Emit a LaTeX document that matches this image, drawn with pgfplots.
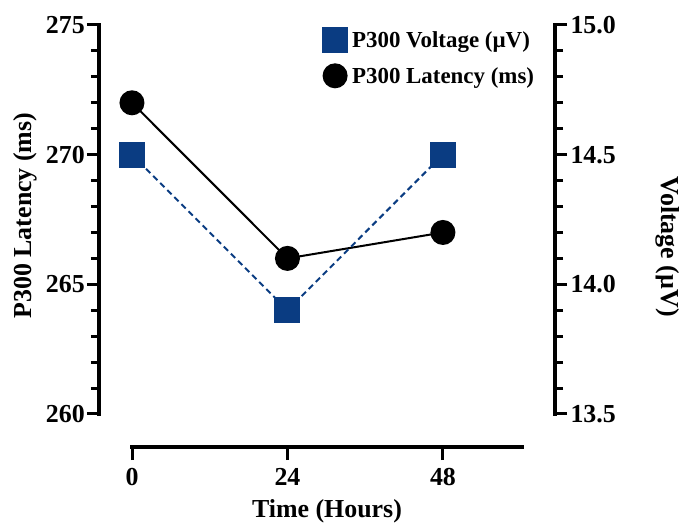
\documentclass[border=0pt]{standalone}
\usepackage{pgfplots}
\pgfplotsset{compat=1.18}
\usepackage{fontspec}
\setmainfont{Liberation Serif}
\definecolor{pblue}{RGB}{10,60,130}
\newcommand{\bigf}{\fontsize{26}{30}\selectfont\bfseries}
\newcommand{\legf}{\fontsize{23}{27}\selectfont\bfseries}
\begin{document}
\begin{tikzpicture}
\useasboundingbox (0bp,0bp) rectangle (680bp,525bp);
\pgfplotsset{
  every axis/.append style={
    scale only axis,
    clip=false,
    font=\bigf,
    tick label style={font=\bigf},
    label style={font=\bigf},
    /pgf/number format/assume math mode=true,
    axis line style={line width=3.5bp, line cap=rect},
    major tick length=12bp,
    minor tick length=8bp,
    every tick/.style={black, line width=3bp},
  }
}
\begin{axis}[
  at={(99bp,111bp)}, anchor=south west,
  width=456bp, height=389bp,
  xmin=-5.09, xmax=65.3,
  ymin=260, ymax=275,
  axis x line=none,
  axis y line*=left,
  tick align=outside,
  ytick={260,265,270,275},
  minor y tick num=4,
  yticklabel style={inner sep=2bp},
  ylabel={P300 Latency (ms)},
  every axis y label/.style={at={(axis description cs:-0.162,0.51)}, rotate=90, anchor=center},
]
\addplot[black, line width=2bp, mark=*, mark size=11.5bp, mark options={solid, fill=black}]
  coordinates {(0,272) (24,266) (48,267)};
\end{axis}
\begin{axis}[
  at={(99bp,111bp)}, anchor=south west,
  width=456bp, height=389bp,
  xmin=-5.09, xmax=65.3,
  ymin=13.5, ymax=15,
  axis x line=none,
  axis y line*=right,
  tick align=outside,
  ytick={13.5,14,14.5,15},
  minor y tick num=4,
  yticklabel style={/pgf/number format/.cd, fixed, fixed zerofill, precision=1},
  ylabel={Voltage (\textmu V)},
  every axis y label/.style={at={(axis description cs:1.246,0.43)}, rotate=-90, anchor=center},
  legend style={draw=none, fill=none, font=\legf, at={(axis description cs:0.491,0.992)}, anchor=north west, inner sep=0pt, row sep=12bp, column sep=3bp},
  legend cell align=left,
  legend image code/.code={\draw[#1] plot coordinates {(0bp,0bp)};},
]
\addplot[pblue, dashed, dash pattern=on 6bp off 4bp, line width=2bp, mark=square*, mark size=12bp, mark options={solid, fill=pblue}]
  coordinates {(0,14.5) (24,13.9) (48,14.5)};
\addlegendentry{P300 Voltage (\textmu V)}
\addlegendimage{black, line width=2bp, mark=*, mark size=11.5bp, mark options={solid, fill=black}}
\addlegendentry{P300 Latency (ms)}
\end{axis}
\begin{axis}[
  at={(132bp,78bp)}, anchor=south west,
  width=390bp, height=1bp,
  xmin=0, xmax=60.2,
  ymin=0, ymax=1,
  axis y line=none,
  axis x line*=bottom,
  tick align=outside,
  xtick={0,24,48},
  major tick length=13bp,
  xticklabel style={yshift=-5bp},
  xlabel={Time (Hours)},
  xlabel style={yshift=-7bp},
]
\end{axis}
\end{tikzpicture}
\end{document}
